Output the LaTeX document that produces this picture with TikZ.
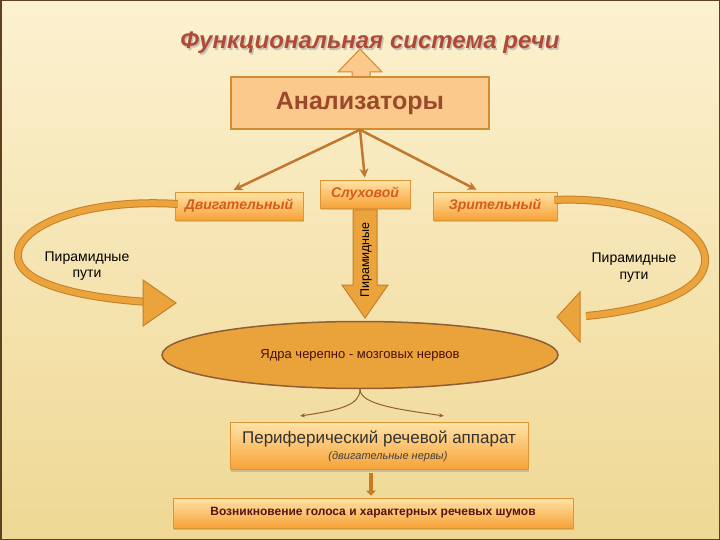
\documentclass[tikz,border=0pt]{standalone}
\usepackage{fontspec}
\setmainfont{Liberation Sans}
\usetikzlibrary{shadows,arrows.meta,calc,shapes.geometric}
\definecolor{bgtop}{HTML}{FCF1D0}
\definecolor{bgbot}{HTML}{EFD894}
\definecolor{framec}{HTML}{5C4222}
\definecolor{peach}{HTML}{FBC98B}
\definecolor{peachline}{HTML}{D38B2F}
\definecolor{gtop}{HTML}{FFE3A6}
\definecolor{gbot}{HTML}{F7A237}
\definecolor{gline}{HTML}{DB9534}
\definecolor{boxtext}{HTML}{D65C1C}
\definecolor{titlec}{HTML}{B04A36}
\definecolor{antext}{HTML}{9A4A2A}
\definecolor{arrfill}{HTML}{EBA33C}
\definecolor{arrline}{HTML}{C4802A}
\definecolor{connc}{HTML}{C0782C}
\definecolor{ellfill}{HTML}{EAA23A}
\definecolor{ellline}{HTML}{8E5E36}
\definecolor{dred}{HTML}{5A1212}
\definecolor{smallarr}{HTML}{C97A1E}
\tikzset{
  gbox/.style={draw=gline, line width=0.8pt, top color=gtop, bottom color=gbot, inner sep=0pt,
    drop shadow={shadow xshift=1pt, shadow yshift=-2pt, opacity=0.35}},
  sensetext/.style={font=\fontsize{14}{17}\selectfont\bfseries\itshape, text=boxtext},
  conn/.style={draw=connc, line width=2.5pt, -{Stealth[length=9pt,width=9pt]}},
  band/.style={draw=arrline, double=arrfill, double distance=6pt, line width=1pt},
  blockarr/.style={fill=arrfill, draw=arrline, line width=1pt, line join=miter},
  lbl/.style={font=\fontsize{14}{17}\selectfont, align=center, text=black},
  thinarr/.style={draw=ellline, line width=1pt, -{Stealth[length=5pt,width=4pt]}}
}
\begin{document}
\begin{tikzpicture}[x=1pt,y=-1pt]
\useasboundingbox (0,0) rectangle (720,540);
\shade[top color=bgtop, bottom color=bgbot] (0,0) rectangle (720,540);
\draw[framec, line width=1.5pt] (0.75,0.75) rectangle (719.25,539.25);

% title
\node[font=\fontsize{24}{29}\selectfont\bfseries\itshape, text=black!35, opacity=0.6] at (371.5,44.5) {Функциональная система речи};
\node[font=\fontsize{24}{29}\selectfont\bfseries\itshape, text=titlec] (title) at (370,43) {Функциональная система речи};

% up arrow
\filldraw[blockarr, fill=peach, draw=peachline] (352,78) -- (352,72) -- (338,72) -- (360,49) -- (382,72) -- (370,72) -- (370,78);

% analyzers box
\node[draw=peachline, line width=1.5pt, fill=peach, minimum width=258pt, minimum height=52pt, inner sep=0pt,
  font=\fontsize{25}{30}\selectfont\bfseries, text=antext] (an) at (360,103) {Анализаторы};

% sense boxes
\node[gbox, sensetext, minimum width=128pt, minimum height=28pt] (dv) at (239,206) {Двигательный};
\node[gbox, sensetext, minimum width=90pt, minimum height=28pt] (sl) at (365,194) {Слуховой};
\node[gbox, sensetext, minimum width=124pt, minimum height=28pt] (zr) at (495,206) {Зрительный};

% connectors from analyzers
\draw[conn, shorten >=4pt] (an.south) -- ($(dv.north west)!0.43!(dv.north east)$);
\draw[conn, shorten >=2pt] (an.south) -- (sl.north);
\draw[conn, shorten >=4pt] (an.south) -- ($(zr.north west)!0.38!(zr.north east)$);

% ellipse
\node[ellipse, draw=ellline, line width=1.5pt, fill=ellfill, minimum width=396pt, minimum height=67pt, inner sep=0pt,
  font=\fontsize{13}{15}\selectfont, text=dred!80!black] (el) at (360,355) {Ядра черепно - мозговых нервов};

% left curved band
\coordinate (lhead) at (176,303);
\draw[band] ($(dv.west)+(3,-2)$) .. controls (80,198) and (14,228) .. (18,258)
  .. controls (22,290) and (110,300) .. (150,302);
\filldraw[blockarr] (143,280) -- (lhead) -- (143,326) -- cycle;

% right curved band
\coordinate (rhead) at (557,317);
\draw[band] ($(zr.east)+(-3,-6)$) .. controls (640,196) and (708,228) .. (705,262)
  .. controls (702,298) and (630,312) .. (586,316);
\filldraw[blockarr] (580,292) -- (rhead) -- (580,342) -- cycle;

% labels
\node[lbl] (pl) at (87,266) {Пирамидные\\[-1pt]пути};
\node[lbl] (pr) at (634,268) {Пирамидные\\[0pt]пути};

% central down arrow
\filldraw[blockarr] (353,210) -- (377,210) -- (377,285) -- (388,285) -- (365,318) -- (342,285) -- (353,285) -- cycle;
\node[rotate=90, font=\fontsize{12.5}{14}\selectfont, text=black] (pc) at (366,260) {Пирамидные};

% peripheral box
\node[gbox, minimum width=298pt, minimum height=47pt] (per) at (379,446) {};
\node[font=\fontsize{17}{20}\selectfont, text=black!80] at (379,439) {Периферический речевой аппарат};
\node[font=\fontsize{11}{13}\selectfont\itshape, text=black!75] at (388,457) {(двигательные нервы)};

% curved thin arrows
\draw[thinarr] (el.south) .. controls +(0,16) and +(40,-6) .. (300,416);
\draw[thinarr] (el.south) .. controls +(0,16) and +(-40,-6) .. (444,416);

% bottom box
\node[gbox, minimum width=400pt, minimum height=30pt, font=\fontsize{12}{14}\selectfont\bfseries, text=dred] (bot) at (373,513) {Возникновение голоса и характерных речевых шумов};

% small arrow
\draw[smallarr, line width=3.5pt, -{Triangle[length=5pt,width=10pt]}] ($(per.south)+(-8,3)$) -- ($(bot.north)+(-2,-2)$);
\end{tikzpicture}
\end{document}
